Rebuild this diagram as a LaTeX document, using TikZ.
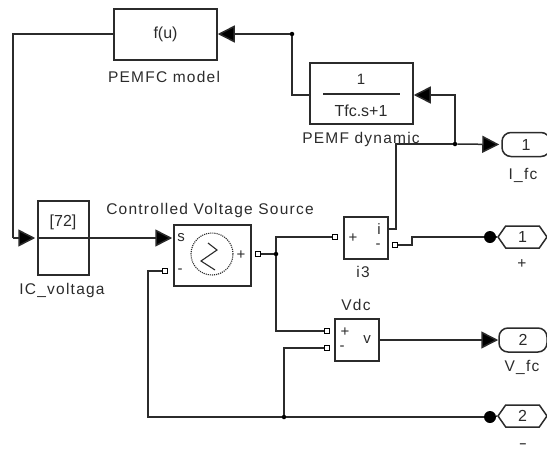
\documentclass[tikz,border=0pt]{standalone}
\usepackage{fontspec}
\setmainfont{Liberation Sans}
\newfontfamily\labelfont[LetterSpace=8]{Liberation Sans}
\usetikzlibrary{arrows.meta,shapes.symbols}
\definecolor{wirecol}{HTML}{2B2B2B}
\tikzset{
    wire/.style={line width=1.5pt, draw=wirecol},
    feed/.style={wire, -{Triangle[length=17pt, width=17pt, fill=black]}},
    blockbox/.style={draw=wirecol, line width=1.5pt, fill=white, inner sep=0pt, text=wirecol, font=\fontsize{16}{18}\selectfont},
    tag/.style={text=wirecol, inner sep=0pt, font=\labelfont\fontsize{15.5}{17}\selectfont},
    pin/.style={text=wirecol, inner sep=0pt, font=\fontsize{15}{17}\selectfont},
    portsq/.style={draw=black, line width=1.5pt, fill=white, minimum size=5pt, inner sep=0pt},
    joint/.style={circle, fill=black, minimum size=4.5pt, inner sep=0pt},
    gotodot/.style={circle, fill=black, minimum size=12pt, inner sep=0pt},
    outport/.style={blockbox, rounded corners=9pt, minimum width=48pt, minimum height=24pt},
    gotoport/.style={blockbox, signal, signal to=east and west, signal pointer angle=110, minimum width=49pt, minimum height=22pt}
}
\begin{document}
\begin{tikzpicture}[x=1pt, y=-1pt]
    \useasboundingbox (0,0) rectangle (547,453);

    \draw[wire] (114,34) -- (13,34) -- (13,238) coordinate (icin);
    \node[blockbox, minimum width=103pt, minimum height=51pt] (pemfc) at (165.5,34.5) {f(u)};
    \node[tag] (pemfclabel) at (164,77) {PEMFC model};

    \node[blockbox, minimum width=103pt, minimum height=61pt] (pemf) at (361.5,93.5) {};
    \node[pin] (pemfnum) at (361,79) {1};
    \draw[wire, line width=1.2pt] (323,94) -- (400,94);
    \node[pin, font=\fontsize{16}{18}\selectfont] (pemfden) at (361,111) {Tfc.s+1};
    \node[tag] (pemflabel) at (361,139) {PEMF dynamic};

    \node[blockbox, minimum width=51pt, minimum height=74pt] (ic) at (63.5,238) {};
    \node[pin, font=\fontsize{16}{18}\selectfont] (icval) at (63,222) {[72]};
    \node[tag] (iclabel) at (62,290) {IC\_voltaga};

    \node[blockbox, minimum width=77pt, minimum height=61pt] (src) at (212.5,255.5) {};
    \node[pin] (srcs) at (181,238) {s};
    \node[pin] (srcm) at (180,271) {-};
    \node[pin] (srcp) at (241,255) {+};
    \node[circle, draw=wirecol, line width=1.1pt, densely dotted, minimum size=42pt, inner sep=0pt] (srcring) at (212,254) {};
    \draw[wire, line width=1.1pt] (208,243) -- (217,250) -- (201,261) -- (215,270);
    \node[tag] (srclabel) at (210,210) {Controlled Voltage Source};

    \node[blockbox, minimum width=44pt, minimum height=42pt] (i3) at (366,238) {};
    \node[pin] (i3p) at (353,238) {+};
    \node[pin] (i3i) at (379,229) {i};
    \node[pin] (i3m) at (378,246) {-};
    \node[tag] (i3label) at (363,272) {i3};

    \node[blockbox, minimum width=44pt, minimum height=42pt] (vdc) at (357,340) {};
    \node[pin] (vdcp) at (345,332) {+};
    \node[pin] (vdcm) at (342,348) {-};
    \node[pin] (vdcv) at (367,340) {v};
    \node[tag] (vdclabel) at (356,305) {Vdc};

    \node[outport] (ifc) at (526,144.5) {1};
    \node[gotoport] (plus) at (522.5,237) {1};
    \node[outport] (vfc) at (523,340) {2};
    \node[gotoport] (minus) at (522.5,416) {2};
    \node[tag] (ifclabel) at (523,175) {I\_fc};
    \node[tag] (pluslabel) at (522,264) {+};
    \node[tag] (vfclabel) at (522,367) {V\_fc};
    \node[tag, font=\bfseries\fontsize{12}{12}\selectfont] (minuslabel) at (523,446) {–};

    \node[portsq] (srcout) at (258,254) {};
    \node[portsq] (srcneg) at (165,271) {};
    \node[portsq] (i3in) at (335,237) {};
    \node[portsq] (i3out) at (395,245) {};
    \node[portsq] (vdcpin) at (327,331) {};
    \node[portsq] (vdcmin) at (327,348) {};

    \node[joint] (j1) at (292,34) {};
    \node[joint] (j2) at (455,144) {};
    \node[joint] (j3) at (276,254) {};
    \node[joint] (j4) at (284,417) {};
    \node[gotodot] (dotplus) at (490,237) {};
    \node[gotodot] (dotminus) at (490,417) {};

    \draw[feed, shorten >=2pt] (icin) -- (ic.west);
    \draw[feed, shorten >=1pt] (ic.west) -- (src.west |- ic.west);
    \draw[wire] (ic.west) -- (ic.east);
    \draw[feed] (j1) -- (pemfc.east |- j1);
    \draw[wire] (j1) |- (pemf.west |- 0,95);
    \draw[feed] (j2) |- (pemf.east |- 0,95);
    \draw[feed, shorten >=2pt] (j2) -- (ifc.west);
    \draw[wire] (i3.east |- 0,229) -- (396,229) -- (396,144) -- (j2);
    \draw[wire] (srcout) -- (j3);
    \draw[wire] (j3) |- (i3in);
    \draw[wire] (j3) |- (vdcpin);
    \draw[wire] (i3out) -- (412,245) -- (412,237) -- (dotplus);
    \draw[wire] (dotplus) -- (plus.west);
    \draw[feed] (vdc.east) -- (vfc.west);
    \draw[wire] (srcneg) -| (148,417) -- (j4);
    \draw[wire] (j4) |- (vdcmin);
    \draw[wire] (j4) -- (dotminus);
    \draw[wire] (dotminus) -- (minus.west);
\end{tikzpicture}
\end{document}
